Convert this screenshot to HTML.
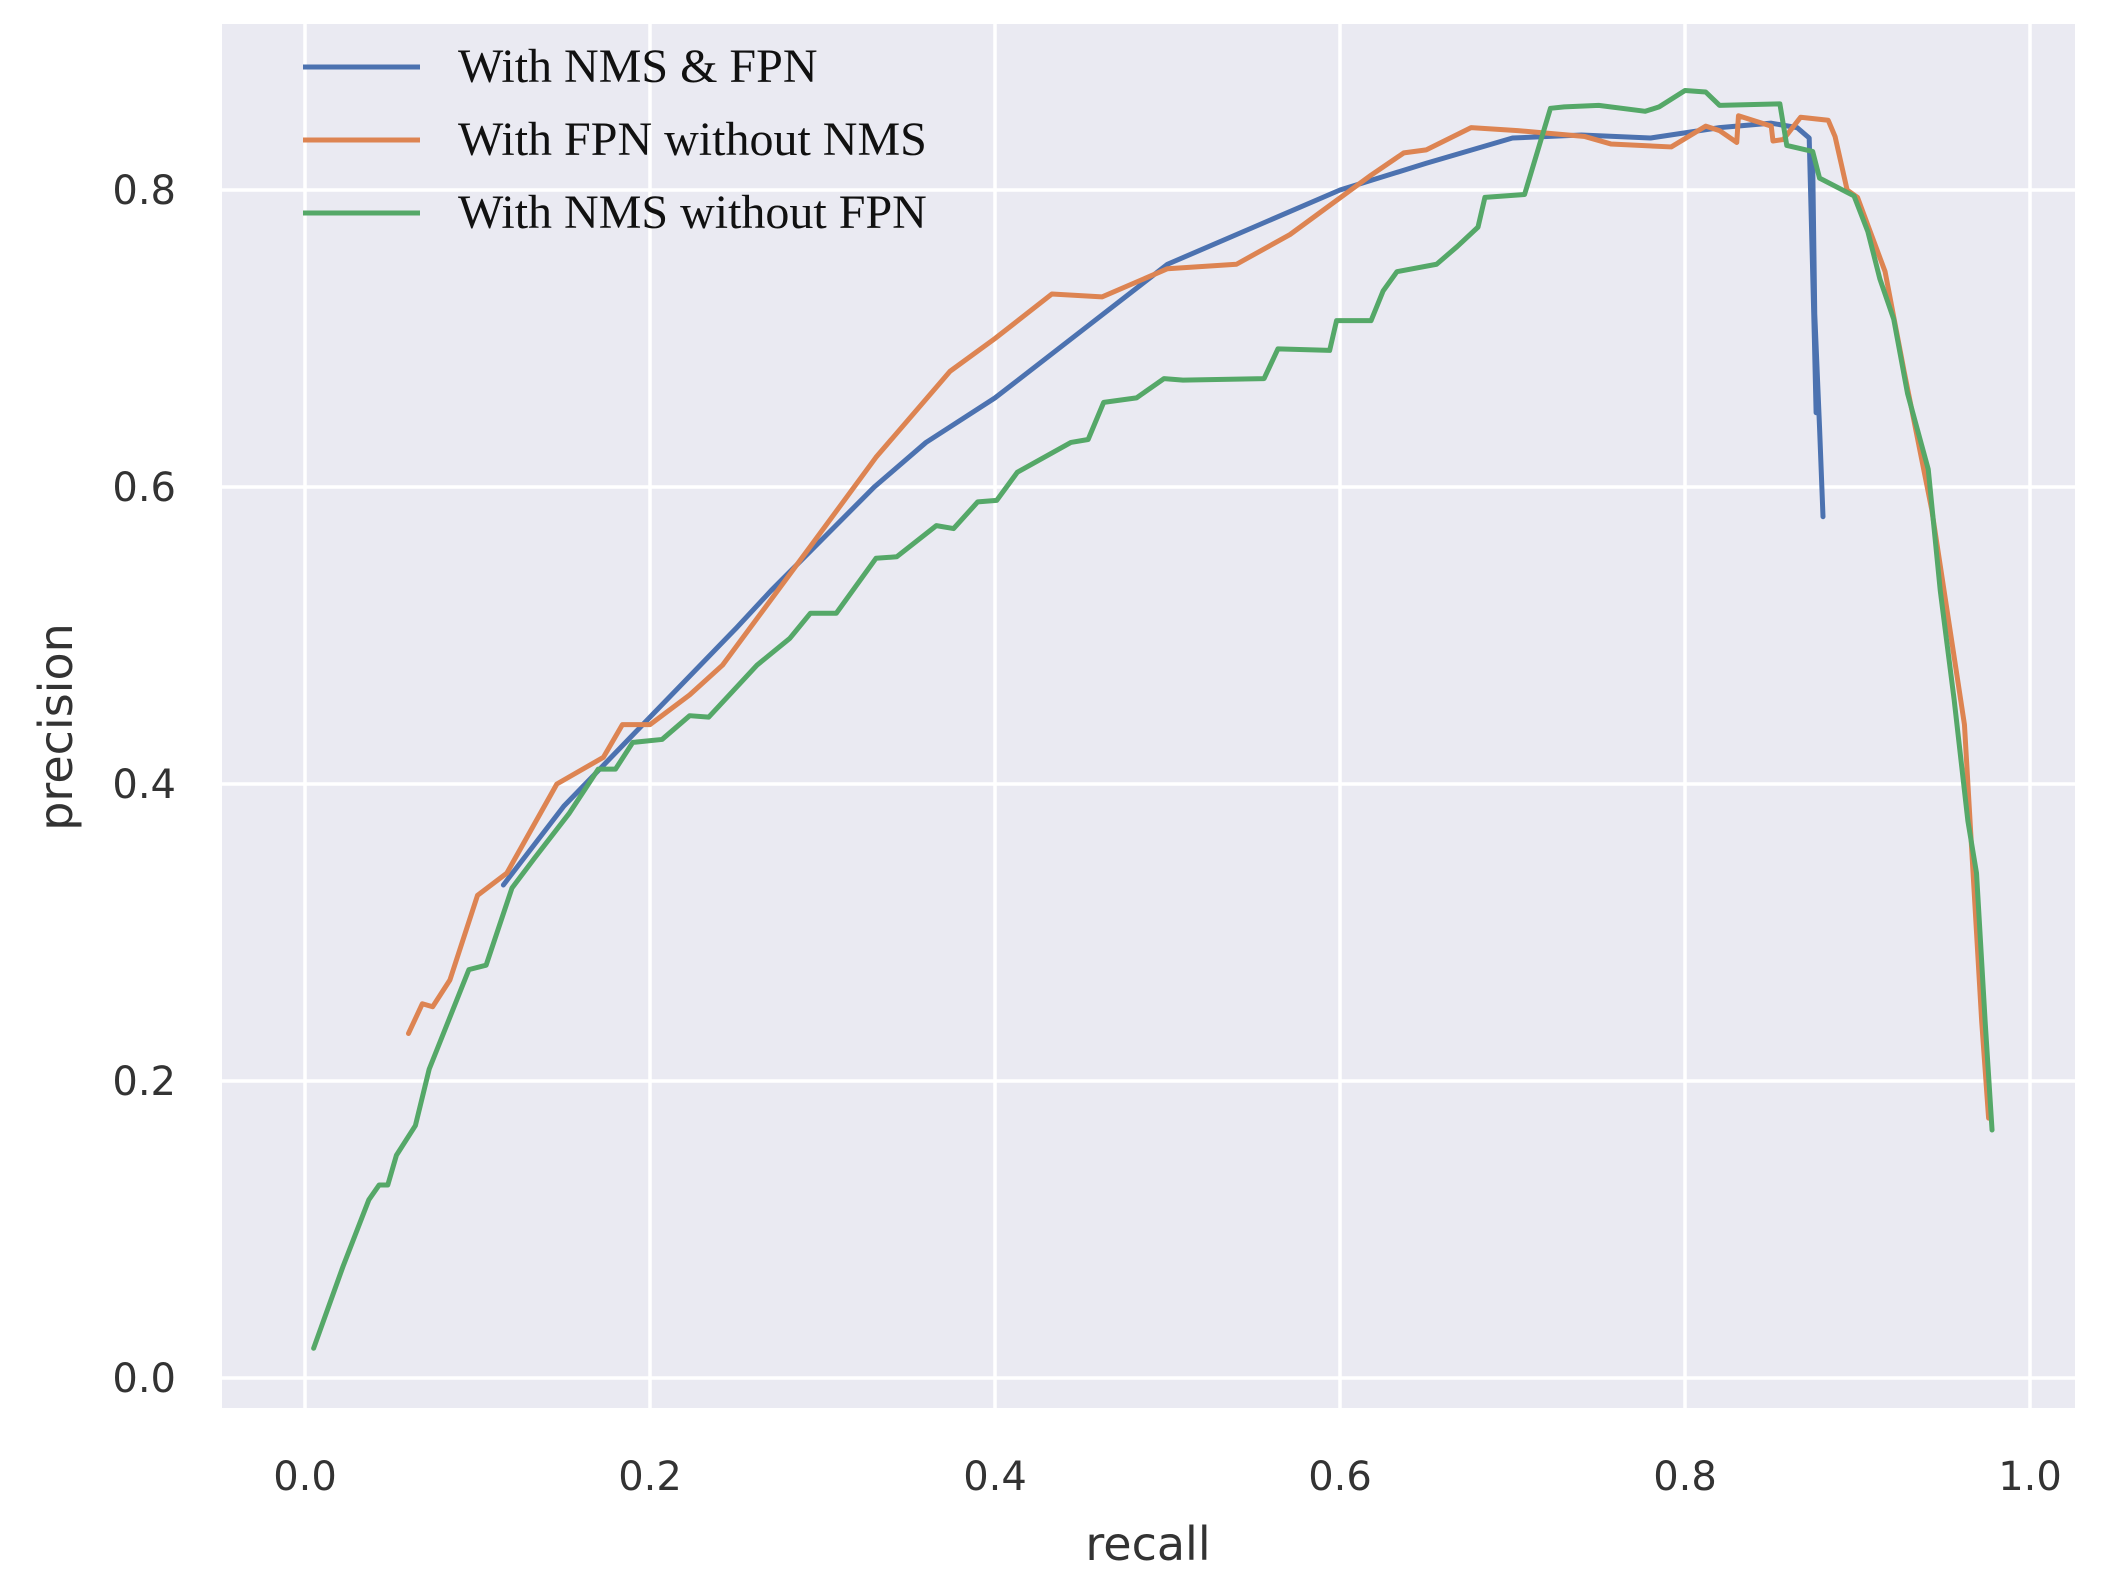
<!DOCTYPE html>
<html><head><meta charset="utf-8"><style>
html,body{margin:0;padding:0;background:#fff;}
svg{display:block;}
.tick{font-family:"DejaVu Sans","Liberation Sans",sans-serif;font-size:40px;fill:#333;}
.lab{font-family:"DejaVu Sans","Liberation Sans",sans-serif;font-size:46px;fill:#333;}
.leg{font-family:"Liberation Serif",serif;font-size:48px;fill:#111;}
</style></head><body>
<svg id="chart" width="2103" height="1586">
<rect x="222" y="24" width="1853" height="1384" fill="#eaeaf2"/>
<g id="grid"></g>
<g id="series"></g>
<g id="ticks"></g>
<text class="lab" x="1148" y="1560" text-anchor="middle">recall</text>
<text class="lab" x="72" y="727" text-anchor="middle" transform="rotate(-90 72 727)">precision</text>
<g id="legend"></g>
</svg>
<script>
const xTicks=[0.0,0.2,0.4,0.6,0.8,1.0];
const yTicks=[0.0,0.2,0.4,0.6,0.8];
const seriesNames=["With NMS & FPN","With FPN without NMS","With NMS without FPN"];
const seriesColors=["#4c72b0","#dd8452","#55a868"];
const blueX=[0.115,0.15,0.2,0.25,0.27,0.3,0.33,0.36,0.4,0.45,0.5,0.55,0.6,0.65,0.7,0.74,0.78,0.82,0.85,0.865,0.872,0.875,0.874,0.876,0.874,0.878,0.88];
const blueY=[0.332,0.385,0.445,0.505,0.53,0.565,0.6,0.63,0.66,0.705,0.75,0.775,0.8,0.818,0.835,0.837,0.835,0.842,0.845,0.842,0.835,0.70,0.82,0.65,0.75,0.64,0.58];
const orangeX=[0.06,0.068,0.074,0.084,0.10,0.117,0.146,0.173,0.184,0.2,0.223,0.242,0.293,0.331,0.374,0.4,0.433,0.462,0.5,0.54,0.571,0.618,0.637,0.65,0.676,0.703,0.742,0.757,0.792,0.812,0.82,0.83,0.831,0.85,0.851,0.857,0.867,0.883,0.887,0.894,0.9,0.916,0.927,0.943,0.962,0.972,0.976];
const orangeY=[0.232,0.252,0.25,0.268,0.325,0.34,0.40,0.418,0.44,0.44,0.46,0.48,0.56,0.62,0.678,0.70,0.73,0.728,0.747,0.75,0.77,0.81,0.825,0.827,0.842,0.84,0.836,0.831,0.829,0.843,0.84,0.832,0.85,0.843,0.833,0.834,0.849,0.847,0.836,0.80,0.795,0.745,0.678,0.585,0.44,0.24,0.175];
const greenX=[0.005,0.022,0.037,0.043,0.048,0.053,0.064,0.072,0.095,0.105,0.12,0.133,0.153,0.17,0.18,0.19,0.207,0.223,0.234,0.246,0.262,0.281,0.293,0.308,0.331,0.343,0.366,0.376,0.39,0.401,0.413,0.444,0.454,0.463,0.482,0.498,0.509,0.556,0.564,0.594,0.598,0.618,0.625,0.633,0.656,0.668,0.68,0.684,0.707,0.722,0.73,0.75,0.777,0.785,0.8,0.812,0.82,0.855,0.859,0.874,0.878,0.898,0.906,0.913,0.921,0.929,0.941,0.948,0.956,0.964,0.969,0.974,0.978];
const greenY=[0.02,0.075,0.12,0.13,0.13,0.15,0.17,0.208,0.275,0.278,0.33,0.35,0.38,0.41,0.41,0.428,0.43,0.446,0.445,0.46,0.48,0.498,0.515,0.515,0.552,0.553,0.574,0.572,0.59,0.591,0.61,0.63,0.632,0.657,0.66,0.673,0.672,0.673,0.693,0.692,0.712,0.712,0.732,0.745,0.75,0.762,0.775,0.795,0.797,0.855,0.856,0.857,0.853,0.856,0.867,0.866,0.857,0.858,0.83,0.826,0.808,0.796,0.772,0.74,0.713,0.663,0.612,0.53,0.457,0.375,0.34,0.24,0.167];
const NS="http://www.w3.org/2000/svg";
const X=v=>305+v*1725;
const Y=v=>1378-v*1485;
const grid=document.getElementById('grid'),ticks=document.getElementById('ticks');
xTicks.forEach(t=>{
 const l=document.createElementNS(NS,'line');
 l.setAttribute('x1',X(t));l.setAttribute('x2',X(t));l.setAttribute('y1',24);l.setAttribute('y2',1408);
 l.setAttribute('stroke','#fff');l.setAttribute('stroke-width','3.5');
 
 
 grid.appendChild(l);
 const tx=document.createElementNS(NS,'text');
 tx.setAttribute('x',X(t));tx.setAttribute('y',1490);tx.setAttribute('text-anchor','middle');tx.setAttribute('class','tick');
 tx.textContent=t.toFixed(1);
 
 
 ticks.appendChild(tx);
});
yTicks.forEach(t=>{
 const l=document.createElementNS(NS,'line');
 l.setAttribute('y1',Y(t));l.setAttribute('y2',Y(t));l.setAttribute('x1',222);l.setAttribute('x2',2075);
 l.setAttribute('stroke','#fff');l.setAttribute('stroke-width','3.5');
 
 
 grid.appendChild(l);
 const tx=document.createElementNS(NS,'text');
 tx.setAttribute('x',176);tx.setAttribute('y',Y(t)+14);tx.setAttribute('text-anchor','end');tx.setAttribute('class','tick');
 tx.textContent=t.toFixed(1);
 
 
 ticks.appendChild(tx);
});
const sg=document.getElementById('series');
const data=[[blueX,blueY],[orangeX,orangeY],[greenX,greenY]];
const snames=['series-nms-fpn','series-fpn-no-nms','series-nms-no-fpn'];
data.forEach((d,i)=>{
 const p=document.createElementNS(NS,'polyline');
 p.setAttribute('points',d[0].map((x,j)=>X(x)+','+Y(d[1][j])).join(' '));
 p.setAttribute('fill','none');p.setAttribute('stroke',seriesColors[i]);p.setAttribute('stroke-width','5');p.setAttribute('stroke-linejoin','round');p.setAttribute('stroke-linecap','round');
 
 
 sg.appendChild(p);
});
const lg=document.getElementById('legend');
seriesNames.forEach((n,i)=>{
 const y=67+i*73;
 const l=document.createElementNS(NS,'line');
 l.setAttribute('x1',303);l.setAttribute('x2',420);l.setAttribute('y1',y);l.setAttribute('y2',y);
 l.setAttribute('stroke',seriesColors[i]);l.setAttribute('stroke-width','5');
 
 
 lg.appendChild(l);
 const t=document.createElementNS(NS,'text');
 t.setAttribute('x',458);t.setAttribute('y',y+15);t.setAttribute('class','leg');
 t.textContent=n;
 
 
 lg.appendChild(t);
});
</script>
</body></html>
